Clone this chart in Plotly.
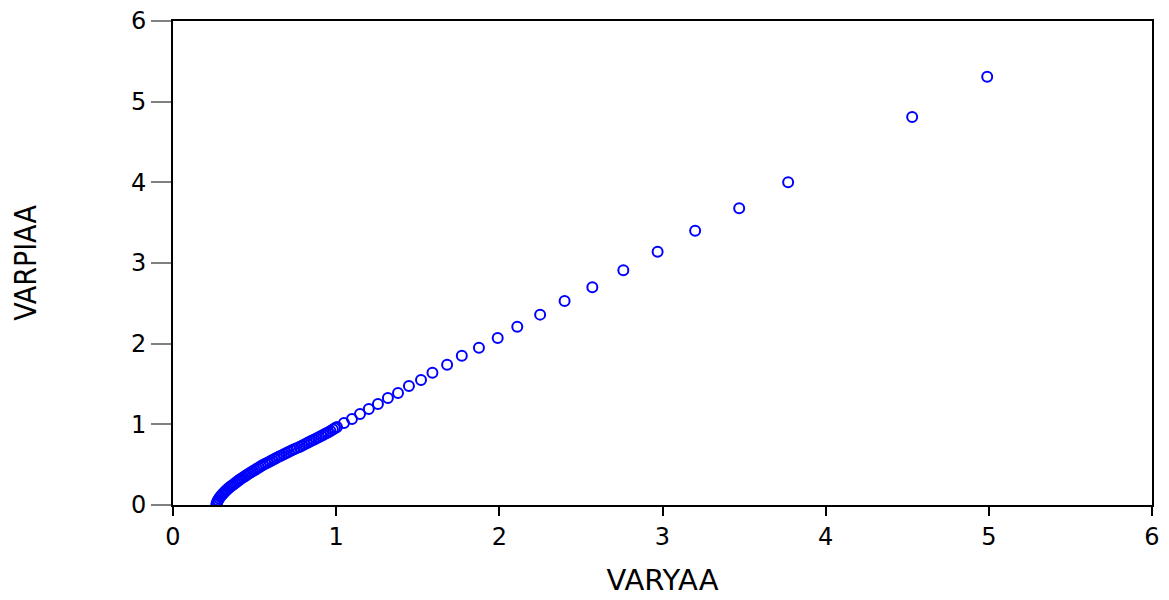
import plotly.graph_objects as go

varyaa = [0.266, 0.268, 0.271, 0.276, 0.282, 0.289, 0.297, 0.305, 0.31, 0.318,
          0.325, 0.333, 0.342, 0.351, 0.36, 0.37, 0.38, 0.39, 0.40, 0.41,
          0.42, 0.431, 0.443, 0.454, 0.466, 0.478, 0.49, 0.502, 0.514, 0.526,
          0.538, 0.551, 0.565, 0.579, 0.593, 0.607, 0.622, 0.636, 0.65, 0.665,
          0.68, 0.695, 0.71, 0.726, 0.742, 0.758, 0.775, 0.79, 0.805, 0.82,
          0.834, 0.848, 0.863, 0.878, 0.893, 0.908, 0.922, 0.936, 0.95, 0.965,
          0.98, 0.992, 1.005,
          1.048, 1.097, 1.146, 1.20, 1.256, 1.317, 1.379, 1.446, 1.52, 1.59,
          1.68, 1.77, 1.875, 1.99, 2.11, 2.25, 2.40, 2.57, 2.76, 2.97,
          3.20, 3.47, 3.77, 4.53, 4.99]
varpiaa = [0.007, 0.02, 0.04, 0.06, 0.08, 0.10, 0.12, 0.135, 0.15, 0.165,
           0.18, 0.195, 0.21, 0.225, 0.24, 0.255, 0.27, 0.285, 0.30, 0.315,
           0.33, 0.345, 0.36, 0.375, 0.39, 0.405, 0.42, 0.435, 0.45, 0.465,
           0.48, 0.495, 0.51, 0.525, 0.54, 0.555, 0.57, 0.585, 0.60, 0.615,
           0.63, 0.645, 0.66, 0.675, 0.69, 0.705, 0.72, 0.735, 0.75, 0.765,
           0.78, 0.795, 0.81, 0.825, 0.84, 0.855, 0.87, 0.885, 0.90, 0.918,
           0.935, 0.951, 0.967,
           1.016, 1.066, 1.128, 1.19, 1.252, 1.326, 1.388, 1.475, 1.55, 1.64,
           1.74, 1.85, 1.95, 2.07, 2.21, 2.36, 2.53, 2.70, 2.91, 3.14,
           3.40, 3.68, 4.00, 4.81, 5.31]

tick_vals = [0, 1, 2, 3, 4, 5, 6]
tick_text = ["0", "1", "2", "3", "4", "5", "6"]

fig = go.Figure()
fig.add_trace(go.Scatter(
    x=varyaa, y=varpiaa, mode="markers",
    marker=dict(symbol="circle-open", size=10, color="#0000FF",
                line=dict(width=2, color="#0000FF")),
    showlegend=False,
))

tick_font = dict(family="DejaVu Sans, Arial, sans-serif", size=24, color="black")

fig.update_layout(
    width=1169, height=600,
    margin=dict(l=165, r=25, t=13, b=103),
    paper_bgcolor="white", plot_bgcolor="white",
    xaxis=dict(
        range=[0, 6], tickvals=tick_vals, ticktext=tick_text,
        showgrid=False, zeroline=False, automargin=False,
        showline=True, linecolor="black", linewidth=2, mirror=True,
        ticks="outside", ticklen=9, tickwidth=2, tickcolor="black",
        tickfont=tick_font,
        title=dict(text="VARYAA",
                   font=dict(family="DejaVu Sans, Arial, sans-serif", size=29, color="black"),
                   standoff=20),
    ),
    yaxis=dict(
        range=[0, 6], tickvals=tick_vals, ticktext=tick_text,
        showgrid=False, zeroline=False, automargin=False,
        ticklabeloverflow="allow",
        showline=True, linecolor="black", linewidth=2, mirror=True,
        ticks="outside", ticklen=20, tickwidth=1.5, tickcolor="#808080",
        tickfont=tick_font,
        title=dict(text="VARPIAA",
                   font=dict(family="Liberation Sans Narrow, DejaVu Sans Condensed, Arial Narrow, sans-serif",
                             size=30, color="black"),
                   standoff=92),
    ),
)

fig.write_html("out.html")
